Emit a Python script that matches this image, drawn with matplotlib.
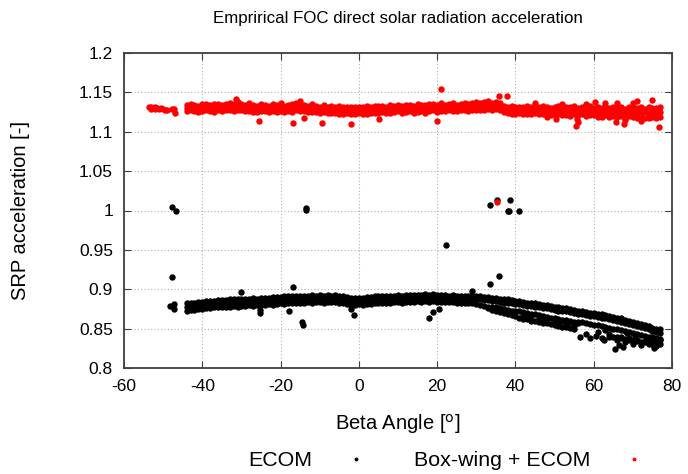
import matplotlib
matplotlib.use('Agg')
import matplotlib.pyplot as plt
from matplotlib.lines import Line2D

plt.rcParams['font.family'] = ['Liberation Sans', 'DejaVu Sans']
plt.rcParams['axes.unicode_minus'] = False

# beta angle sampling of the dense bands [deg]
beta = [-44, -43, -42, -41, -40, -39, -38, -37, -36, -35,
        -34, -33, -32, -31, -30, -29, -28, -27, -26, -25,
        -24, -23, -22, -21, -20, -19, -18, -17, -16, -15,
        -14, -13, -12, -11, -10, -9, -8, -7, -6, -5,
        -4, -3, -2, -1, 0, 1, 2, 3, 4, 5,
        6, 7, 8, 9, 10, 11, 12, 13, 14, 15,
        16, 17, 18, 19, 20, 21, 22, 23, 24, 25,
        26, 27, 28, 29, 30, 31, 32, 33, 34, 35,
        36, 37, 38, 39, 40, 41, 42, 43, 44, 45,
        46, 47, 48, 49, 50, 51, 52, 53, 54, 55,
        56, 57, 58, 59, 60, 61, 62, 63, 64, 65,
        66, 67, 68, 69, 70, 71, 72, 73, 74, 75,
        76, 77]

# Box-wing + ECOM band
red_hi = [1.134, 1.135, 1.134, 1.133, 1.135, 1.135, 1.134, 1.135, 1.135, 1.134,
          1.135, 1.137, 1.135, 1.138, 1.135, 1.134, 1.136, 1.134, 1.133, 1.135,
          1.134, 1.133, 1.135, 1.134, 1.136, 1.133, 1.134, 1.135, 1.136, 1.134,
          1.134, 1.133, 1.135, 1.133, 1.132, 1.134, 1.132, 1.133, 1.132, 1.133,
          1.131, 1.132, 1.131, 1.132, 1.132, 1.131, 1.133, 1.132, 1.133, 1.133,
          1.133, 1.132, 1.134, 1.133, 1.134, 1.133, 1.134, 1.134, 1.133, 1.135,
          1.134, 1.134, 1.135, 1.135, 1.134, 1.136, 1.134, 1.135, 1.136, 1.134,
          1.135, 1.137, 1.135, 1.136, 1.138, 1.136, 1.138, 1.139, 1.137, 1.138,
          1.137, 1.133, 1.132, 1.133, 1.131, 1.132, 1.132, 1.133, 1.131, 1.132,
          1.131, 1.133, 1.131, 1.130, 1.132, 1.133, 1.130, 1.132, 1.131, 1.133,
          1.130, 1.132, 1.131, 1.133, 1.130, 1.131, 1.130, 1.133, 1.130, 1.131,
          1.130, 1.131, 1.129, 1.132, 1.130, 1.130, 1.132, 1.129, 1.131, 1.130,
          1.130, 1.131]
red_mid = [1.130, 1.131, 1.130, 1.129, 1.130, 1.131, 1.130, 1.130, 1.131, 1.130,
           1.131, 1.132, 1.131, 1.133, 1.131, 1.130, 1.131, 1.130, 1.129, 1.130,
           1.130, 1.129, 1.130, 1.130, 1.131, 1.129, 1.130, 1.130, 1.131, 1.130,
           1.130, 1.129, 1.130, 1.129, 1.128, 1.129, 1.128, 1.129, 1.128, 1.128,
           1.127, 1.128, 1.127, 1.127, 1.128, 1.127, 1.128, 1.128, 1.129, 1.128,
           1.129, 1.128, 1.129, 1.129, 1.130, 1.129, 1.129, 1.130, 1.129, 1.130,
           1.130, 1.129, 1.130, 1.131, 1.130, 1.131, 1.130, 1.131, 1.131, 1.130,
           1.131, 1.132, 1.131, 1.132, 1.133, 1.132, 1.133, 1.134, 1.133, 1.134,
           1.133, 1.129, 1.128, 1.128, 1.127, 1.128, 1.127, 1.128, 1.127, 1.128,
           1.127, 1.128, 1.127, 1.126, 1.127, 1.128, 1.126, 1.127, 1.126, 1.127,
           1.126, 1.127, 1.126, 1.127, 1.126, 1.125, 1.126, 1.127, 1.125, 1.126,
           1.125, 1.126, 1.124, 1.126, 1.125, 1.124, 1.126, 1.125, 1.124, 1.125,
           1.124, 1.125]
red_lo = [1.126, 1.127, 1.126, 1.125, 1.126, 1.127, 1.126, 1.125, 1.127, 1.126,
          1.127, 1.127, 1.126, 1.128, 1.127, 1.126, 1.126, 1.125, 1.125, 1.126,
          1.126, 1.125, 1.126, 1.125, 1.126, 1.125, 1.126, 1.125, 1.127, 1.126,
          1.126, 1.125, 1.125, 1.125, 1.124, 1.125, 1.124, 1.124, 1.124, 1.123,
          1.123, 1.124, 1.122, 1.123, 1.124, 1.123, 1.123, 1.124, 1.124, 1.124,
          1.125, 1.124, 1.124, 1.125, 1.126, 1.124, 1.125, 1.126, 1.124, 1.125,
          1.126, 1.124, 1.126, 1.127, 1.125, 1.126, 1.126, 1.127, 1.126, 1.126,
          1.127, 1.127, 1.126, 1.128, 1.128, 1.127, 1.128, 1.129, 1.128, 1.129,
          1.128, 1.125, 1.124, 1.123, 1.123, 1.124, 1.122, 1.123, 1.123, 1.124,
          1.122, 1.123, 1.122, 1.121, 1.122, 1.123, 1.121, 1.121, 1.120, 1.122,
          1.121, 1.122, 1.120, 1.121, 1.121, 1.119, 1.121, 1.121, 1.119, 1.120,
          1.119, 1.120, 1.118, 1.120, 1.119, 1.118, 1.120, 1.118, 1.118, 1.119,
          1.118, 1.119]

# scattered Box-wing + ECOM points
red_extra_x = [-53.5, -53.2, -53.0, -52.5, -52.2, -52.0, -51.5, -51.0, -50.5, -50.0,
               -49.5, -49.0, -47.8, -47.2, -47.0,
               -31.4, -15.0, -25.5, -16.8, -14.0, -9.4, -2.0, 5.2, 20.0, 21.0,
               35.8, 37.8, 45.0, 48.0, 50.4, 52.0, 55.5, 55.8, 56.0, 58.0,
               60.3, 62.0, 63.0, 64.0, 65.7, 66.0, 67.8, 68.0, 70.0, 71.0,
               72.0, 74.0, 75.0, 76.7, 35.3]
red_extra_y = [1.131, 1.129, 1.132, 1.130, 1.129, 1.131, 1.130, 1.129, 1.130, 1.129,
               1.128, 1.128, 1.129, 1.129, 1.124,
               1.141, 1.139, 1.114, 1.111, 1.118, 1.111, 1.110, 1.116, 1.114, 1.154,
               1.145, 1.145, 1.136, 1.119, 1.116, 1.135, 1.107, 1.116, 1.112, 1.135,
               1.138, 1.119, 1.137, 1.120, 1.112, 1.136, 1.110, 1.115, 1.137, 1.139,
               1.114, 1.122, 1.140, 1.106, 1.011]

# ECOM band
black_hi = [0.882, 0.883, 0.883, 0.884, 0.884, 0.885, 0.885, 0.885, 0.886, 0.886,
            0.886, 0.887, 0.887, 0.887, 0.888, 0.888, 0.888, 0.889, 0.888, 0.889,
            0.889, 0.889, 0.890, 0.890, 0.890, 0.891, 0.891, 0.891, 0.892, 0.892,
            0.892, 0.892, 0.893, 0.892, 0.893, 0.892, 0.893, 0.892, 0.893, 0.892,
            0.891, 0.890, 0.889, 0.889, 0.889, 0.889, 0.890, 0.890, 0.891, 0.891,
            0.891, 0.892, 0.892, 0.892, 0.893, 0.892, 0.893, 0.893, 0.893, 0.893,
            0.893, 0.894, 0.893, 0.894, 0.893, 0.893, 0.893, 0.892, 0.893, 0.892,
            0.892, 0.892, 0.891, 0.892, 0.891, 0.891, 0.890, 0.890, 0.889, 0.889,
            0.888, 0.887, 0.887, 0.886, 0.885, 0.885, 0.884, 0.883, 0.883, 0.882,
            0.881, 0.880, 0.880, 0.879, 0.878, 0.877, 0.876, 0.876, 0.875, 0.874,
            0.873, 0.872, 0.871, 0.870, 0.870, 0.869, 0.868, 0.867, 0.866, 0.865,
            0.864, 0.863, 0.861, 0.860, 0.859, 0.857, 0.856, 0.855, 0.853, 0.851,
            0.850, 0.849]
black_mid = [0.878, 0.878, 0.879, 0.879, 0.880, 0.880, 0.881, 0.881, 0.881, 0.882,
             0.882, 0.882, 0.883, 0.883, 0.883, 0.884, 0.884, 0.884, 0.884, 0.884,
             0.885, 0.885, 0.885, 0.886, 0.886, 0.886, 0.887, 0.887, 0.887, 0.888,
             0.888, 0.888, 0.888, 0.888, 0.889, 0.888, 0.889, 0.888, 0.889, 0.888,
             0.887, 0.886, 0.885, 0.885, 0.885, 0.885, 0.886, 0.886, 0.887, 0.887,
             0.887, 0.888, 0.888, 0.888, 0.889, 0.888, 0.889, 0.889, 0.889, 0.889,
             0.889, 0.890, 0.889, 0.890, 0.889, 0.889, 0.889, 0.888, 0.889, 0.888,
             0.888, 0.888, 0.887, 0.888, 0.887, 0.887, 0.886, 0.886, 0.885, 0.885,
             0.884, 0.883, 0.883, 0.882, 0.881, 0.881, 0.880, 0.879, 0.879, 0.878,
             0.877, 0.876, 0.876, 0.875, 0.874, 0.873, 0.872, 0.872, 0.871, 0.870,
             0.869, 0.868, 0.867, 0.866, 0.866, 0.865, 0.864, 0.863, 0.862, 0.861,
             0.860, 0.859, 0.857, 0.856, 0.855, 0.853, 0.852, 0.851, 0.849, 0.847,
             0.846, 0.845]
black_lo = [0.873, 0.874, 0.874, 0.875, 0.875, 0.876, 0.876, 0.877, 0.877, 0.877,
            0.878, 0.877, 0.879, 0.878, 0.879, 0.879, 0.880, 0.879, 0.880, 0.880,
            0.880, 0.881, 0.880, 0.881, 0.882, 0.881, 0.882, 0.882, 0.883, 0.883,
            0.883, 0.884, 0.883, 0.884, 0.884, 0.883, 0.884, 0.884, 0.884, 0.883,
            0.882, 0.881, 0.880, 0.880, 0.881, 0.880, 0.881, 0.881, 0.882, 0.882,
            0.882, 0.883, 0.883, 0.884, 0.884, 0.883, 0.884, 0.884, 0.884, 0.885,
            0.884, 0.885, 0.884, 0.885, 0.884, 0.884, 0.884, 0.884, 0.884, 0.883,
            0.883, 0.883, 0.882, 0.882, 0.881, 0.880, 0.879, 0.878, 0.877, 0.877,
            0.876, 0.875, 0.874, 0.873, 0.872, 0.872, 0.871, 0.870, 0.869, 0.868,
            0.867, 0.866, 0.865, 0.864, 0.863, 0.862, 0.861, 0.861, 0.860, 0.859,
            0.858, 0.858, 0.857, 0.856, 0.855, 0.854, 0.853, 0.852, 0.851, 0.850,
            0.849, 0.848, 0.847, 0.846, 0.845, 0.843, 0.842, 0.841, 0.840, 0.839,
            0.838, 0.837]

# thicker lower part of the ECOM band at high beta
black_under_x = [33, 34, 35, 36, 37, 38, 39, 40, 41, 42, 43, 44, 45, 46, 47, 48,
                 49, 50, 51, 52, 53, 54, 55, 64, 65, 66, 67, 68, 69, 70, 71, 72,
                 73, 74, 75, 76, 77]
black_under_y = [0.876, 0.874, 0.872, 0.871, 0.870, 0.868, 0.867, 0.866, 0.864, 0.862,
                 0.862, 0.860, 0.860, 0.859, 0.857, 0.857, 0.856, 0.855, 0.853, 0.852,
                 0.852, 0.851, 0.850, 0.840, 0.840, 0.839, 0.838, 0.837, 0.836, 0.835,
                 0.834, 0.833, 0.833, 0.832, 0.831, 0.830, 0.830]

# lower tail of the ECOM band at high beta
black_tail_x = [42, 43, 44, 46, 47, 48, 50, 51, 52, 53, 54, 55, 56,
                56.5, 58, 59, 60.5, 61, 62, 62.5, 63, 64, 65.5, 66, 66.5,
                67, 67.5, 68, 68.5, 69, 70, 70.5, 71, 72, 73, 73.5, 74,
                75, 75.5, 76, 76.5, 77]
black_tail_y = [0.868, 0.864, 0.866, 0.865, 0.861, 0.863, 0.861, 0.857, 0.860, 0.855, 0.858, 0.853, 0.857,
                0.840, 0.843, 0.838, 0.841, 0.846, 0.838, 0.835, 0.848, 0.843, 0.824, 0.836, 0.829,
                0.840, 0.827, 0.833, 0.845, 0.838, 0.831, 0.842, 0.836, 0.829, 0.834, 0.838, 0.830,
                0.836, 0.826, 0.828, 0.833, 0.835]

# ECOM outliers
black_extra_x = [-47.7, -46.7, -47.7, -48.2, -47.2, -47.2, -13.5, -13.6, -30.0, -25.3,
                 -25.3, -16.8, -17.8, -14.5, -14.3, -2.0, -1.2, 33.5, 35.3, 38.6,
                 38.0, 38.3, 41.0, 22.3, 35.8, 33.5, 29.0, 20.5, 19.0, 18.0]
black_extra_y = [1.0045, 0.999, 0.9155, 0.879, 0.881, 0.875, 1.003, 1.001, 0.896, 0.874,
                 0.870, 0.903, 0.872, 0.858, 0.855, 0.875, 0.867, 1.007, 1.013, 1.013,
                 0.9995, 0.999, 0.9995, 0.956, 0.917, 0.907, 0.898, 0.875, 0.8705, 0.8635]

xticks = [-60, -40, -20, 0, 20, 40, 60, 80]
yticks = [0.8, 0.85, 0.9, 0.95, 1.0, 1.05, 1.1, 1.15, 1.2]
ytick_labels = ['0.8', '0.85', '0.9', '0.95', '1', '1.05', '1.1', '1.15', '1.2']

fig = plt.figure(figsize=(6.88, 4.74), dpi=100)
ax = fig.add_axes([124 / 688, 1 - 368 / 474, 548 / 688, 315 / 474])

ms = 4.6
for ys in [black_hi, black_mid, black_lo]:
    ax.plot(beta, ys, 'o', color='black', ms=ms, mew=0, zorder=3)
ax.plot(black_under_x, black_under_y, 'o', color='black', ms=ms, mew=0, zorder=3)
ax.plot(black_tail_x, black_tail_y, 'o', color='black', ms=ms, mew=0, zorder=3)
ax.plot(black_extra_x, black_extra_y, 'o', color='black', ms=ms, mew=0, zorder=3)

for ys in [red_hi, red_mid, red_lo]:
    ax.plot(beta, ys, 'o', color='red', ms=ms, mew=0, zorder=4)
ax.plot(red_extra_x, red_extra_y, 'o', color='red', ms=ms, mew=0, zorder=4)

ax.set_xlim(-60, 80)
ax.set_ylim(0.8, 1.2)
ax.set_xticks(xticks)
ax.set_yticks(yticks)
ax.set_yticklabels(ytick_labels)
ax.tick_params(direction='in', length=5, width=0.8, top=True, right=True,
               labelsize=12.5, pad=8, colors='#404040', labelcolor='black')
ax.grid(True, color='#b0b0b0', linestyle=(0, (1, 2)), linewidth=0.8, zorder=0)
ax.set_axisbelow(True)
for s in ax.spines.values():
    s.set_linewidth(1.3)
    s.set_color('#404040')

fig.text(398 / 688, 1 - 18 / 474, 'Emprirical FOC direct solar radiation acceleration',
         ha='center', va='center', fontsize=12.2)
fig.text(398 / 688, 1 - 424 / 474, r'Beta Angle [$^\mathrm{o}$]',
         ha='center', va='center', fontsize=14.5)
fig.text(21 / 688, 1 - 211 / 474, 'SRP acceleration [-]', rotation=90,
         ha='center', va='center', fontsize=14.5)

handles = [Line2D([], [], ls='none', marker='o', color='black', ms=2.8, mew=0),
           Line2D([], [], ls='none', marker='o', color='red', ms=2.8, mew=0)]
fig.legend(handles, ['ECOM', 'Box-wing + ECOM'], loc='center',
           bbox_to_anchor=(452 / 688, 1 - 461 / 474), ncol=2, frameon=False,
           markerfirst=False, fontsize=15.4, handlelength=2.0, columnspacing=1.7,
           handletextpad=1.06)

fig.savefig('out.png', dpi=100)
